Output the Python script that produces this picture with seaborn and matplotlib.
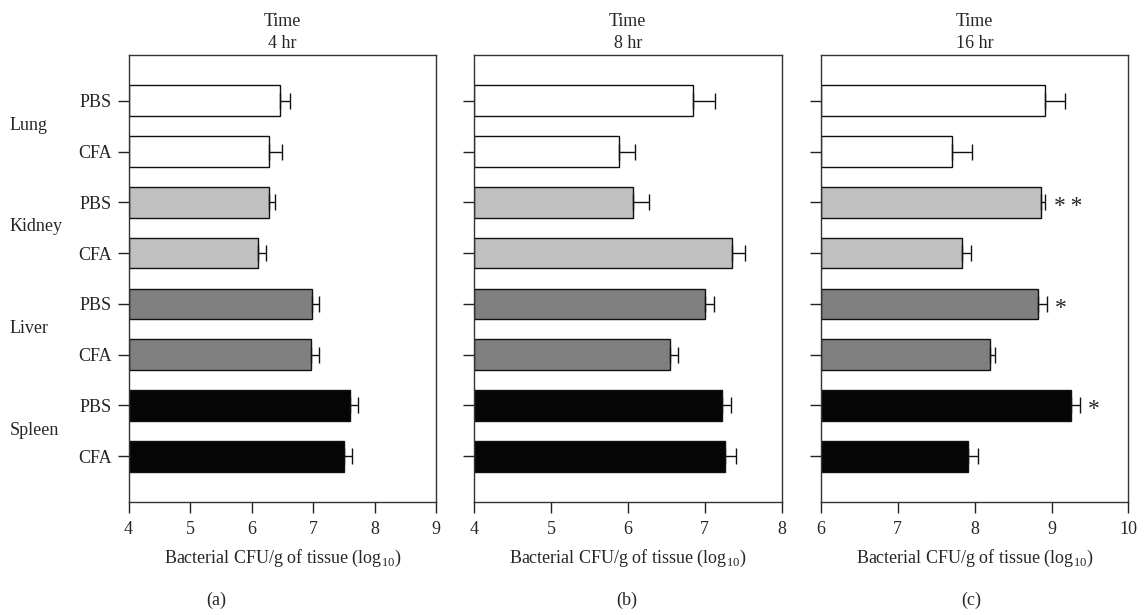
import numpy as np
import pandas as pd
import matplotlib
matplotlib.use("Agg")
import matplotlib.pyplot as plt
import seaborn as sns

sns.set_theme(style="white")
plt.rcParams['font.family'] = ['Liberation Serif', 'DejaVu Serif']
plt.rcParams['mathtext.fontset'] = 'custom'
plt.rcParams['mathtext.rm'] = 'Liberation Serif'

# ---- data ----
organs = ["Lung", "Kidney", "Liver", "Spleen"]
treatments = ["PBS", "CFA"]
bar_ids = ["Lung-PBS", "Lung-CFA", "Kidney-PBS", "Kidney-CFA",
           "Liver-PBS", "Liver-CFA", "Spleen-PBS", "Spleen-CFA"]
tick_labels = ["PBS", "CFA", "PBS", "CFA", "PBS", "CFA", "PBS", "CFA"]

hr4_mean = [6.46, 6.29, 6.28, 6.11, 6.98, 6.96, 7.60, 7.51]
hr4_upper = [6.63, 6.49, 6.39, 6.24, 7.10, 7.09, 7.73, 7.63]
hr8_mean = [6.85, 5.89, 6.07, 7.36, 7.00, 6.55, 7.23, 7.26]
hr8_upper = [7.13, 6.09, 6.28, 7.52, 7.12, 6.66, 7.34, 7.41]
hr16_mean = [8.92, 7.71, 8.86, 7.83, 8.83, 8.20, 9.25, 7.91]
hr16_upper = [9.17, 7.96, 8.92, 7.95, 8.94, 8.26, 9.37, 8.04]
hr16_sig = ["", "", "**", "", "*", "", "*", ""]

panel_titles = ["Time\n4 hr", "Time\n8 hr", "Time\n16 hr"]
panel_letters = ["(a)", "(b)", "(c)"]
xlims = [(4, 9), (4, 8), (6, 10)]
xticks = [[4, 5, 6, 7, 8, 9], [4, 5, 6, 7, 8], [6, 7, 8, 9, 10]]
xlabel = "Bacterial CFU/g of tissue (log$_{10}$)"

bar_colors = ["#ffffff", "#ffffff", "#c0c0c0", "#c0c0c0",
              "#808080", "#808080", "#050505", "#050505"]

means = [hr4_mean, hr8_mean, hr16_mean]
uppers = [hr4_upper, hr8_upper, hr16_upper]
sigs = [None, None, hr16_sig]

W, H = 1144, 615
fig = plt.figure(figsize=(W / 100, H / 100), dpi=100)
lefts = [128.5, 474.0, 820.9]
width_px = 307.5
top_px, bottom_px = 55, 502
letter_x = [216, 627, 971]

fs = 13
for i in range(3):
    ax = fig.add_axes([lefts[i] / W, 1 - bottom_px / H, width_px / W, (bottom_px - top_px) / H])
    df = pd.DataFrame({"bar": bar_ids, "value": means[i]})
    sns.barplot(data=df, x="value", y="bar", hue="bar", order=bar_ids,
                palette=dict(zip(bar_ids, bar_colors)), legend=False,
                orient="h", width=0.6, edgecolor="#111111", linewidth=1.0,
                ax=ax)
    vals = np.array(means[i])
    err = np.array(uppers[i]) - vals
    ypos = np.arange(len(bar_ids))
    ax.errorbar(vals, ypos, xerr=[np.zeros_like(err), err], fmt="none",
                ecolor="#111111", elinewidth=1.0, capsize=6, capthick=1.0)
    # bars start from the left axis limit
    for p, v in zip(ax.patches, vals):
        p.set_x(xlims[i][0])
        p.set_width(v - xlims[i][0])
    ax.set_xlim(*xlims[i])
    ax.set_ylim(7.9, -0.9)
    ax.set_xticks(xticks[i])
    ax.set_xticklabels([str(t) for t in xticks[i]], fontsize=fs)
    ax.set_yticks(ypos)
    if i == 0:
        ax.set_yticklabels(tick_labels, fontsize=fs)
    else:
        ax.set_yticklabels([])
    ax.set_ylabel("")
    ax.set_xlabel(xlabel, fontsize=fs, labelpad=7)
    ax.tick_params(axis="x", direction="out", length=8, width=1,
                   color="#222222", pad=6, bottom=True)
    ax.tick_params(axis="y", direction="out", length=8, width=1,
                   color="#222222", pad=4, left=True)
    for s in ax.spines.values():
        s.set_visible(True)
        s.set_color("#333333")
        s.set_linewidth(1.0)
    ax.set_title(panel_titles[i], fontsize=fs, linespacing=1.4, pad=5)
    fig.text(letter_x[i] / W, 1 - 600 / H, panel_letters[i],
             ha="center", va="center", fontsize=fs)
    if sigs[i] is not None:
        for y, (u, s) in enumerate(zip(uppers[i], sigs[i])):
            if s:
                ax.annotate("\u2009".join(s), xy=(u, y), xytext=(6, -3),
                            textcoords="offset points", ha="left",
                            va="center", fontsize=17)

# organ group labels on the far left
for k, org in enumerate(organs):
    yc = 99.7 + (2 * k + 0.5) * 50.9
    fig.text(10 / W, 1 - yc / H, org, ha="left", va="center", fontsize=fs)

fig.savefig("out.png", dpi=100)
